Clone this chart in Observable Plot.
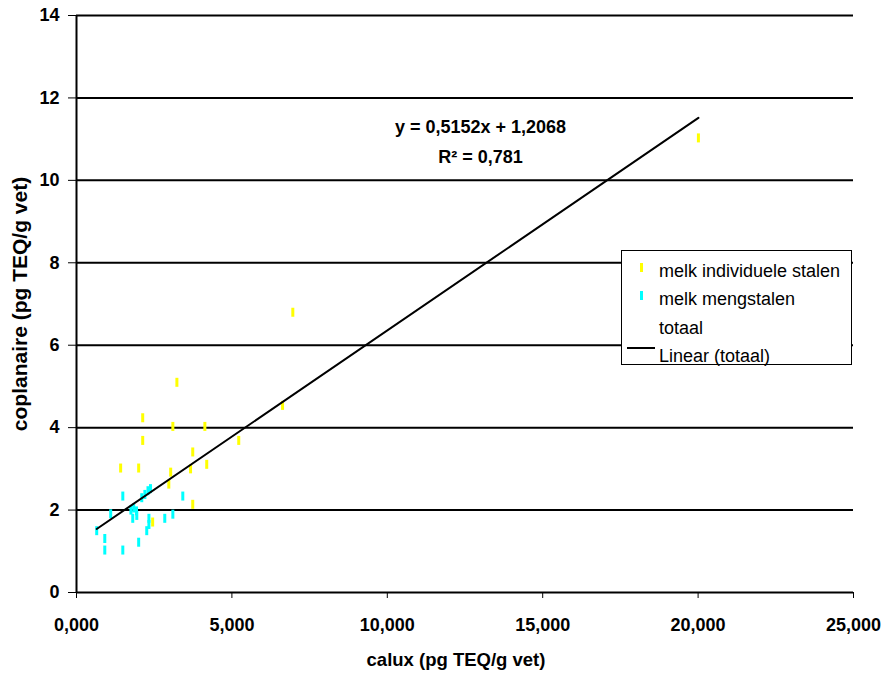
<!DOCTYPE html>
<html><head><meta charset="utf-8">
<script src="https://cdn.jsdelivr.net/npm/d3@7"></script>
<script src="https://cdn.jsdelivr.net/npm/@observablehq/plot@0.6"></script>
<style>
body{margin:0;background:#fff;font-family:"Liberation Sans",Arial,sans-serif;}
#wrap{position:relative;width:884px;height:675px;}
#legend{position:absolute;left:621px;top:250px;width:231px;height:115px;border:1px solid #000;background:#fff;font-size:18px;color:#000;box-sizing:border-box;}
#legend .item{position:absolute;left:37px;white-space:nowrap;line-height:20px;}
#legend .mk{position:absolute;width:3px;height:9px;}
#legend .ln{position:absolute;left:5px;width:28px;height:0;border-top:2px solid #000;}
</style>
</head><body>
<div id="wrap"></div>
<script>
// melk individuele stalen (yellow)
const individueelX = [2.13,3.10,4.13,2.13,3.74,5.22,1.42,2.00,4.19,3.03,3.67,2.97,3.74,2.45,6.63,3.23,6.96,20.01];
const individueelY = [4.24,4.03,4.03,3.69,3.41,3.69,3.02,3.02,3.11,2.92,3.00,2.63,2.14,1.71,4.54,5.10,6.80,11.03];
// melk mengstalen (cyan)
const mengX = [0.65,0.91,0.91,1.10,1.49,1.49,1.81,1.94,2.33,2.33,2.26,2.00,2.84,3.10,3.42,1.75,1.84,1.93,2.10,2.20,2.30,2.38];
const mengY = [1.50,1.31,1.03,1.91,2.34,1.03,1.80,1.87,1.80,1.65,1.50,1.22,1.80,1.90,2.34,2.00,2.05,1.98,2.30,2.38,2.47,2.52];
// regression (totaal)
const slope = 0.5152, intercept = 1.2068, r2 = 0.781;
const xTicks = [0,5,10,15,20,25];
const yTicks = [0,2,4,6,8,10,12,14];
const seriesNames = ["melk individuele stalen","melk mengstalen","totaal","Linear (totaal)"];
const colors = {ind:"#ffff00", meng:"#00ffff"};

const ind = individueelX.map((x,i)=>({x, y: individueelY[i]}));
const meng = mengX.map((x,i)=>({x, y: mengY[i]}));
const all = ind.concat(meng);
const [xmin, xmax] = d3.extent(all, d=>d.x);
const regLine = [xmin, xmax].map(x=>({x, y: slope*x+intercept}));
const fmtComma = (v, digits) => v.toFixed(digits).replace(".", ",");
const vbar = {draw(ctx){ ctx.rect(-1.5,-4.5,3,9); }};

const chart = Plot.plot({
  width: 884, height: 675,
  marginLeft: 76, marginRight: 31, marginTop: 15, marginBottom: 83,
  style: {fontFamily: '"Liberation Sans", Arial, sans-serif', fontSize: "18px", color: "#000", background: "#fff"},
  x: {domain: [0,25]},
  y: {domain: [0,14]},
  marks: [
    Plot.ruleY(yTicks.filter(d=>d>0), {stroke:"#000", strokeWidth:2}),
    Plot.axisX({ticks: xTicks, tickFormat: d=>fmtComma(d,3), tickSize: 6, tickPadding: 20, fontWeight:"bold", fontSize: 18,
      label: "calux (pg TEQ/g vet)", labelAnchor: "center", labelArrow: "none", labelOffset: 73}),
    Plot.axisY({ticks: yTicks, tickFormat: d=>String(d), tickSize: 8, tickPadding: 9, fontWeight:"bold", fontSize: 18,
      label: "coplanaire (pg TEQ/g vet)", labelAnchor: "center", labelArrow: "none", labelOffset: 64}),
    Plot.ruleX([0], {stroke:"#000", strokeWidth:2}),
    Plot.ruleY([0], {stroke:"#000", strokeWidth:2}),
    Plot.dot(ind, {x:"x", y:"y", symbol: vbar, fill: colors.ind, stroke: "none"}),
    Plot.dot(meng, {x:"x", y:"y", symbol: vbar, fill: colors.meng, stroke: "none"}),
    Plot.line(regLine, {x:"x", y:"y", stroke:"#000", strokeWidth:2}),
    Plot.text([`y = ${fmtComma(slope,4)}x + ${fmtComma(intercept,4)}`], {x: 13.0, y: 11.29, text: d=>d, fontWeight:"bold", fontSize: 18, textAnchor:"middle"}),
    Plot.text([`R² = ${fmtComma(r2,3)}`], {x: 13.0, y: 10.56, text: d=>d, fontWeight:"bold", fontSize: 18, textAnchor:"middle"})
  ]
});
chart.querySelectorAll('[aria-label="x-axis label"] text').forEach(t=>{t.setAttribute("font-weight","bold"); t.style.fontSize="18.5px"; t.setAttribute("dx","-9");});
chart.querySelectorAll('[aria-label="y-axis label"] text').forEach(t=>{t.setAttribute("font-weight","bold"); t.style.fontSize="21px";});
document.getElementById("wrap").appendChild(chart);

const leg = document.createElement("div");
leg.id = "legend";
const rows = [
  {name: seriesNames[0], top: 10, mk: colors.ind},
  {name: seriesNames[1], top: 38, mk: colors.meng},
  {name: seriesNames[2], top: 67},
  {name: seriesNames[3], top: 95, line: true}
];
rows.forEach(r=>{
  const t = document.createElement("div"); t.className="item"; t.style.top = r.top+"px"; t.textContent = r.name; leg.appendChild(t);
  if (r.mk) { const m = document.createElement("div"); m.className="mk"; m.style.left="18px"; m.style.top=(r.top+2)+"px"; m.style.background=r.mk; leg.appendChild(m); }
  if (r.line) { const l = document.createElement("div"); l.className="ln"; l.style.top=(r.top+1)+"px"; leg.appendChild(l); }
});
document.getElementById("wrap").appendChild(leg);
</script>
</body></html>
